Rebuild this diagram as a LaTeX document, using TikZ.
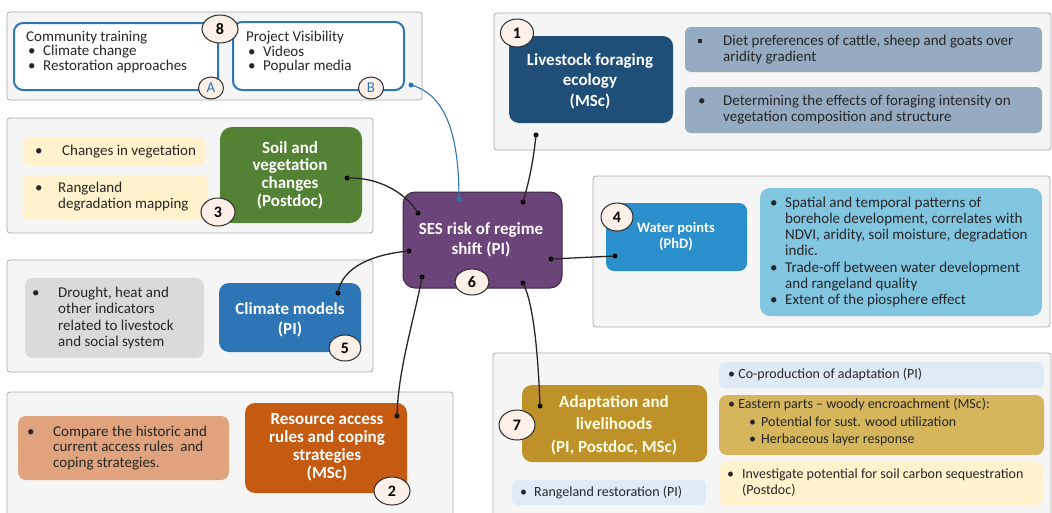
\documentclass[tikz,border=0pt]{standalone}
\usepackage{fontspec}
\setmainfont{Carlito}
\usetikzlibrary{shapes.geometric,fit}
\definecolor{panelborder}{HTML}{ABABAB}
\definecolor{panelfill}{HTML}{F5F5F5}
\definecolor{lfe}{HTML}{1F4E79}
\definecolor{gblue}{HTML}{94ABC2}
\definecolor{soil}{HTML}{548235}
\definecolor{yel}{HTML}{FFF2CC}
\definecolor{water}{HTML}{2B8FCC}
\definecolor{lblue}{HTML}{82C5E1}
\definecolor{ses}{HTML}{6B4479}
\definecolor{sesborder}{HTML}{3D2A45}
\definecolor{clim}{HTML}{2E75B6}
\definecolor{grayb}{HTML}{DADADA}
\definecolor{res}{HTML}{C55A11}
\definecolor{salm}{HTML}{E0A37E}
\definecolor{adapt}{HTML}{BF9229}
\definecolor{eastern}{HTML}{D6B65C}
\definecolor{pblue}{HTML}{DEEBF7}
\definecolor{textdark}{HTML}{262626}
\definecolor{circfill}{HTML}{FDF0E8}
\definecolor{circborder}{HTML}{2B2B2B}
\definecolor{linkblue}{HTML}{2E75B6}
\newcommand{\sqb}{\rule[2.5pt]{4pt}{4pt}}
\tikzset{
  panel/.style={draw=panelborder, fill=panelfill, line width=0.8pt, rounded corners=3pt, inner sep=0pt},
  cbox/.style={inner sep=0pt, rounded corners=#1},
  wbox/.style={draw=linkblue, line width=2pt, fill=white, rounded corners=9pt, inner sep=0pt},
  lbl/.style={text=white, font=\fontsize{17}{#1}\selectfont\bfseries, align=center, inner sep=0pt},
  body/.style={text=textdark, font=\fontsize{15}{#1}\selectfont, align=left, inner sep=0pt, anchor=west},
  smallbody/.style={text=textdark, font=\fontsize{14}{#1}\selectfont, align=left, inner sep=0pt, anchor=west},
  numc/.style={ellipse, draw=circborder, line width=1pt, fill=circfill, inner sep=0pt, font=\fontsize{16}{16}\selectfont\bfseries, text=black},
  dotn/.style={circle, fill=black, inner sep=0pt, minimum size=5pt},
  bdotn/.style={circle, fill=linkblue, inner sep=0pt, minimum size=5pt},
  conn/.style={line width=1.3pt, draw=black!85},
  bconn/.style={line width=1.1pt, draw=linkblue},
}
\begin{document}
\begin{tikzpicture}[x=1pt,y=-1pt]
\useasboundingbox (0,0) rectangle (1052,512);
\clip (0,0) rectangle (1052,512);

% ---------- panels ----------
\node[panel, fit={(7,12) (422,100)}] (p8) {};
\node[panel, fit={(494,13) (1051,150)}] (p1) {};
\node[panel, fit={(7,118) (373,233)}] (p3) {};
\node[panel, fit={(593,176) (1050,327)}] (p4) {};
\node[panel, fit={(7,260) (373,372)}] (p5) {};
\node[panel, fit={(7,392) (453,530)}] (p2) {};
\node[panel, fit={(493,353) (1051,530)}] (p7) {};

% ---------- panel 8 ----------
\node[wbox, fit={(14,23) (218,90)}] (boxA) {};
\node[wbox, fit={(233,22) (404,90)}] (boxB) {};
\node[body=14.5] (textA) at (26,52) {Community training\\
\makebox[17pt][l]{\hspace*{2pt}•}Climate change\\
\makebox[17pt][l]{\hspace*{2pt}•}Restoration approaches};
\node[body=14.5] (textB) at (246,52) {Project Visibility\\
\makebox[17pt][l]{\hspace*{2pt}•}Videos\\
\makebox[17pt][l]{\hspace*{2pt}•}Popular media};
\node[numc, minimum width=36pt, minimum height=28pt] (n8) at (220,29) {8};
\node[numc, minimum width=25pt, minimum height=22pt, font=\fontsize{15}{15}\selectfont, text=linkblue] (nA) at (211,88) {A};
\node[numc, minimum width=25pt, minimum height=22pt, font=\fontsize{15}{15}\selectfont, text=linkblue] (nB) at (371,88) {B};

% ---------- panel 1 ----------
\node[cbox=10pt, fill=lfe, fit={(509,36) (673,123)}] (lfebox) {};
\node[lbl=20.5] (lfetext) at (590,81) {Livestock foraging\\ecology\\(MSc)};
\node[cbox=6pt, fill=gblue, fit={(685,27) (1042,72)}] (g1) {};
\node[cbox=6pt, fill=gblue, fit={(685,87) (1042,133)}] (g2) {};
\node[body=15.5] (g1t) at (698,49.5) {\makebox[25pt][l]{\sqb}Diet preferences of cattle, sheep and goats over\\
\hspace*{25pt}aridity gradient};
\node[body=15.5] (g2t) at (698,109.5) {\makebox[25pt][l]{•}Determining the effects of foraging intensity on\\
\hspace*{25pt}vegetation composition and structure};
\node[numc, minimum width=33pt, minimum height=28pt] (n1) at (517,33) {1};

% ---------- panel 3 ----------
\node[cbox=12pt, fill=soil, fit={(220,127) (362,223)}] (soilbox) {};
\node[lbl=17.7] (soiltext) at (290,175) {Soil and\\vegetation\\changes\\(Postdoc)};
\node[cbox=5pt, fill=yel, fit={(23,138) (205,165)}] (y1) {};
\node[cbox=5pt, fill=yel, fit={(23,175) (207,220)}] (y2) {};
\node[body=16] (y1t) at (35,152) {\makebox[27pt][l]{•}Changes in vegetation};
\node[body=16] (y2t) at (35,197) {\makebox[23pt][l]{•}Rangeland\\\hspace*{23pt}degradation mapping};
\node[numc, minimum width=34pt, minimum height=28pt] (n3) at (218,212) {3};

% ---------- panel 4 ----------
\node[cbox=8pt, fill=water, fit={(606,203) (747,271)}] (wbox) {};
\node[lbl=16, font=\fontsize{14.5}{16}\selectfont\bfseries] (wtext) at (676,237) {Water points\\(PhD)};
\node[cbox=10pt, fill=lblue, fit={(760,188) (1042,316)}] (lb) {};
\node[body=15.7] (lbt) at (770,252) {\makebox[15pt][l]{•}Spatial and temporal patterns of\\
\hspace*{15pt}borehole development, correlates with\\
\hspace*{15pt}NDVI, aridity, soil moisture, degradation\\
\hspace*{15pt}indic.\\[2pt]
\makebox[15pt][l]{•}Trade-off between water development\\
\hspace*{15pt}and rangeland quality\\
\makebox[15pt][l]{•}Extent of the piosphere effect};
\node[numc, minimum width=32pt, minimum height=28pt] (n4) at (617,217) {4};

% ---------- SES ----------
\node[cbox=12pt, fill=ses, draw=sesborder, line width=1pt, fit={(403,192) (562,288)}] (sesbox) {};
\node[lbl=20, text=white!92!pink] (sestext) at (481,240) {SES risk of regime\\shift (PI)};
\node[numc, minimum width=34pt, minimum height=26pt] (n6) at (472,282) {6};

% ---------- panel 5 ----------
\node[cbox=8pt, fill=grayb, fit={(25,278) (204,358)}] (gb) {};
\node[body=16.3] (gbt) at (32,318) {\makebox[26pt][l]{•}Drought, heat and\\
\hspace*{26pt}other indicators\\
\hspace*{26pt}related to livestock\\
\hspace*{26pt}and social system};
\node[cbox=10pt, fill=clim, fit={(219,283) (361,352)}] (climbox) {};
\node[lbl=20] (climtext) at (290,320) {Climate models\\(PI)};
\node[numc, minimum width=32pt, minimum height=26pt] (n5) at (345,348) {5};

% ---------- panel 2 ----------
\node[cbox=8pt, fill=salm, fit={(18,416) (229,480)}] (sb) {};
\node[body=15.5] (sbt) at (27,448) {\makebox[26pt][l]{•}Compare the historic and\\
\hspace*{26pt}current access rules\ \ and\\
\hspace*{26pt}coping strategies.};
\node[cbox=10pt, fill=res, fit={(245,403) (407,493)}] (resbox) {};
\node[lbl=18] (restext) at (327,447) {Resource access\\rules and coping\\strategies\\(MSc)};
\node[numc, minimum width=36pt, minimum height=28pt] (n2) at (392,491) {2};

% ---------- panel 7 ----------
\node[cbox=10pt, fill=adapt, fit={(522,385) (707,462)}] (adbox) {};
\node[lbl=22.5, text=white!90!yellow] (adtext) at (614,425) {Adaptation and\\livelihoods\\(PI, Postdoc, MSc)};
\node[numc, minimum width=36pt, minimum height=30pt] (n7) at (517,425) {7};
\node[cbox=5pt, fill=pblue, fit={(719,362) (1044,388)}] (cop) {};
\node[smallbody=16] (copt) at (728,375) {• Co-production of adaptation (PI)};
\node[cbox=8pt, fill=eastern, fit={(719,395) (1044,455)}] (east) {};
\node[smallbody=17.5] (eastt) at (728,422) {• Eastern parts – woody encroachment (MSc):\\
\hspace*{21pt}\makebox[12pt][l]{•}Potential for sust. wood utilization\\
\hspace*{21pt}\makebox[12pt][l]{•}Herbaceous layer response};
\node[cbox=8pt, fill=yel, fit={(719,462) (1043,505)}] (inv) {};
\node[smallbody=16] (invt) at (727,483) {\makebox[15pt][l]{•}Investigate potential for soil carbon sequestration\\
\hspace*{15pt}(Postdoc)};
\node[cbox=5pt, fill=pblue, fit={(512,480) (706,505)}] (rr) {};
\node[smallbody=16] (rrt) at (520,492.5) {\makebox[14pt][l]{•}Rangeland restoration (PI)};

% ---------- connectors ----------
\node[bdotn] (dB) at (411,85) {};
\node[bdotn] (dSB) at (459,199) {};
\draw[bconn] (dB.center) .. controls (448,95) and (459,140) .. (dSB.center);

\node[dotn] (dL) at (536,135) {};
\node[dotn] (dSL) at (523,202) {};
\draw[conn] (dL.center) .. controls (533,165) and (528,185) .. (dSL.center);

\node[dotn] (dSo) at (347,178) {};
\node[dotn] (dSS) at (418,213) {};
\draw[conn] (dSo.center) .. controls (378,177) and (405,192) .. (dSS.center);

\node[dotn] (dC) at (338,293) {};
\node[dotn] (dSC) at (409,251) {};
\draw[conn] (dC.center) .. controls (342,266) and (375,254) .. (dSC.center);

\node[dotn] (dR) at (397,416) {};
\node[dotn] (dSR) at (422,277) {};
\draw[conn] (dSR.center) .. controls (414,320) and (398,370) .. (dR.center);

\node[dotn] (dA) at (540,406) {};
\node[dotn] (dSA) at (523,283) {};
\draw[conn] (dSA.center) .. controls (533,302) and (538,350) .. (dA.center);

\node[dotn] (dW) at (615,256) {};
\node[dotn] (dSW) at (551,259) {};
\draw[conn] (dSW.center) -- (dW.center);
\end{tikzpicture}
\end{document}
